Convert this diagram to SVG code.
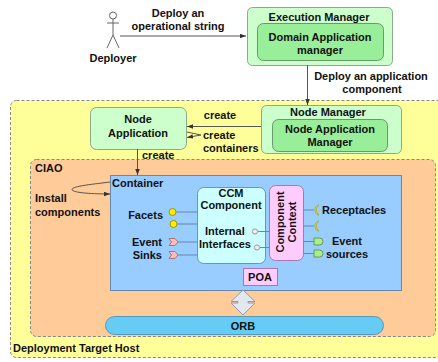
<svg xmlns="http://www.w3.org/2000/svg" width="438" height="362" viewBox="0 0 438 362">
<defs>
<style>
text{font-family:"Liberation Sans",Arial,sans-serif;font-size:11px;font-weight:bold;fill:#111}
.c{text-anchor:middle}
.r{text-anchor:end}
.ln{stroke:#555;stroke-width:1;fill:none}
.dash{stroke:#888;stroke-width:1;stroke-dasharray:3,2}
.g1{fill:#ccffcc;stroke:#8aaa8a;stroke-width:1}
.g2{fill:#99ee99;stroke:#6a9a6a;stroke-width:1}
.conn{stroke:#6688aa;stroke-width:1;fill:none}
</style>
<marker id="ah" viewBox="0 0 8 6" refX="8" refY="3" markerWidth="6" markerHeight="5" orient="auto" markerUnits="userSpaceOnUse">
<path d="M0,0 L8,3 L0,6 z" fill="#333"/>
</marker>
</defs>

<g id="deployment-target-host">
<rect x="10.5" y="100.5" width="440" height="257" rx="6" fill="#ffff99" class="dash"/>
<text x="13" y="352">Deployment Target Host</text>
</g>

<g id="ciao">
<rect x="30.5" y="159.5" width="405" height="177" rx="6" fill="#ffcc99" class="dash"/>
<text x="35" y="172">CIAO</text>
</g>

<g id="deployer">
<circle cx="113" cy="15.5" r="3.5" fill="none" stroke="#666"/>
<path d="M113,19 V35 M107,23 H119 M113,35 L107,48 M113,35 L119,48" stroke="#666" fill="none"/>
<text x="113" y="62" class="c">Deployer</text>
</g>

<g id="execution-manager">
<rect x="247.5" y="7.5" width="145" height="58" rx="5" class="g1"/>
<text x="319" y="21" class="c">Execution Manager</text>
<rect x="257.5" y="23.5" width="126" height="37" rx="6" class="g2"/>
<text x="320" y="41" class="c">Domain Application</text>
<text x="320" y="54" class="c">manager</text>
</g>

<g id="node-manager">
<rect x="261.5" y="105.5" width="140" height="48" rx="5" class="g1"/>
<text x="328" y="116" class="c">Node Manager</text>
<rect x="272.5" y="119.5" width="115" height="32" rx="6" class="g2"/>
<text x="330" y="133" class="c">Node Application</text>
<text x="330" y="146" class="c">Manager</text>
</g>

<g id="node-application">
<rect x="90.5" y="107.5" width="96" height="42" rx="6" class="g1"/>
<text x="138" y="123" class="c">Node</text>
<text x="138" y="137" class="c">Application</text>
</g>

<g id="container">
<rect x="110.5" y="175.5" width="291" height="115" fill="#99ccff" stroke="#6688aa"/>
<text x="112" y="187">Container</text>
<text x="35" y="202">Install</text>
<text x="35" y="216">components</text>
<text x="163" y="219" class="r">Facets</text>
<text x="162" y="246" class="r">Event</text>
<text x="162" y="259" class="r">Sinks</text>
<text x="322" y="214">Receptacles</text>
<text x="347" y="245" class="c">Event</text>
<text x="347" y="258" class="c">sources</text>
</g>

<g id="ccm-component">
<rect x="197.5" y="187.5" width="68" height="76" rx="6" fill="#ccffff" stroke="#6699aa"/>
<text x="231" y="197" class="c">CCM</text>
<text x="231" y="209" class="c">Component</text>
<text x="205" y="235">Internal</text>
<text x="199" y="248">Interfaces</text>
</g>

<g id="component-context">
<rect x="269.5" y="185.5" width="34" height="75" rx="6" fill="#ffccff" stroke="#aa77aa"/>
<text transform="translate(284,222) rotate(-90)" class="c">Component</text>
<text transform="translate(296,222) rotate(-90)" class="c">Context</text>
</g>

<g id="poa">
<rect x="243.5" y="268.5" width="34" height="17" fill="#ffccff" stroke="#aa77aa"/>
<text x="260" y="281" class="c">POA</text>
</g>

<g id="orb">
<rect x="105.5" y="316.5" width="278" height="18" rx="9" fill="#66ccf5" stroke="#5599bb"/>
<text x="243" y="330" class="c">ORB</text>
</g>

<g id="connectors">
<line x1="120" y1="36" x2="246" y2="36" class="ln" marker-end="url(#ah)"/>
<text x="178" y="17" class="c">Deploy an</text>
<text x="178" y="30" class="c">operational string</text>
<line x1="307.5" y1="65" x2="307.5" y2="105" class="ln" marker-end="url(#ah)"/>
<text x="371" y="80" class="c">Deploy an application</text>
<text x="372" y="93" class="c">component</text>
<line x1="261" y1="126.5" x2="187" y2="126.5" class="ln" marker-end="url(#ah)"/>
<text x="220" y="119" class="c">create</text>
<path d="M187,132 L201,135 L187,137.5" class="ln" marker-end="url(#ah)"/>
<text x="203" y="139">create</text>
<text x="203" y="152">containers</text>
<line x1="137.5" y1="149" x2="137.5" y2="175" class="ln" marker-end="url(#ah)"/>
<text x="142" y="159">create</text>
<path d="M110,182 C95,184 72,186 72,189.5 C72,193 95,194 110,194" class="ln" marker-end="url(#ah)"/>
<!-- facets -->
<line x1="176" y1="212" x2="197" y2="212" class="conn"/>
<line x1="177" y1="224" x2="197" y2="224" class="conn"/>
<circle cx="172.5" cy="212" r="3.5" fill="#ffee00" stroke="#999900"/>
<circle cx="173.5" cy="224" r="3.5" fill="#ffee00" stroke="#999900"/>
<!-- event sinks -->
<line x1="178" y1="242" x2="197" y2="242" class="conn"/>
<line x1="178" y1="255" x2="197" y2="255" class="conn"/>
<polygon points="169,238.5 175,238.5 178,242 175,245.5 169,245.5 171.5,242" fill="#ffbbbb" stroke="#aa7777"/>
<polygon points="169,251.5 175,251.5 178,255 175,258.5 169,258.5 171.5,255" fill="#ffbbbb" stroke="#aa7777"/>
<!-- internal interfaces -->
<line x1="258" y1="231.5" x2="269" y2="231.5" class="conn"/>
<line x1="260" y1="247.5" x2="269" y2="247.5" class="conn"/>
<circle cx="255" cy="231.5" r="2.6" fill="#eeeeee" stroke="#999"/>
<circle cx="257" cy="247.5" r="2.6" fill="#eeeeee" stroke="#999"/>
<!-- receptacles -->
<line x1="303" y1="210" x2="314" y2="210" class="conn"/>
<line x1="303" y1="226" x2="314" y2="226" class="conn"/>
<path d="M319,205 A6,6 0 0 0 319,215 A4,5 0 0 1 319,205 z" fill="#ffee44" stroke="#aa9900" stroke-width="0.7"/>
<path d="M319,221 A6,6 0 0 0 319,231 A4,5 0 0 1 319,221 z" fill="#ffee44" stroke="#aa9900" stroke-width="0.7"/>
<!-- event sources -->
<line x1="303" y1="241.5" x2="314" y2="241.5" class="conn"/>
<line x1="303" y1="253.5" x2="314" y2="253.5" class="conn"/>
<path d="M314,238 H319.5 A3.5,3.5 0 0 1 319.5,245 H314 z" fill="#aaee88" stroke="#669955"/>
<path d="M314,250 H319.5 A3.5,3.5 0 0 1 319.5,257 H314 z" fill="#aaee88" stroke="#669955"/>
<!-- POA/ORB double arrow -->
<polygon points="243,290 255,301.5 248,301.5 248,303 255,303 243,315 231,303 238,303 238,301.5 231,301.5" fill="#e2e8f0" stroke="#9999aa"/>
</g>
</svg>
